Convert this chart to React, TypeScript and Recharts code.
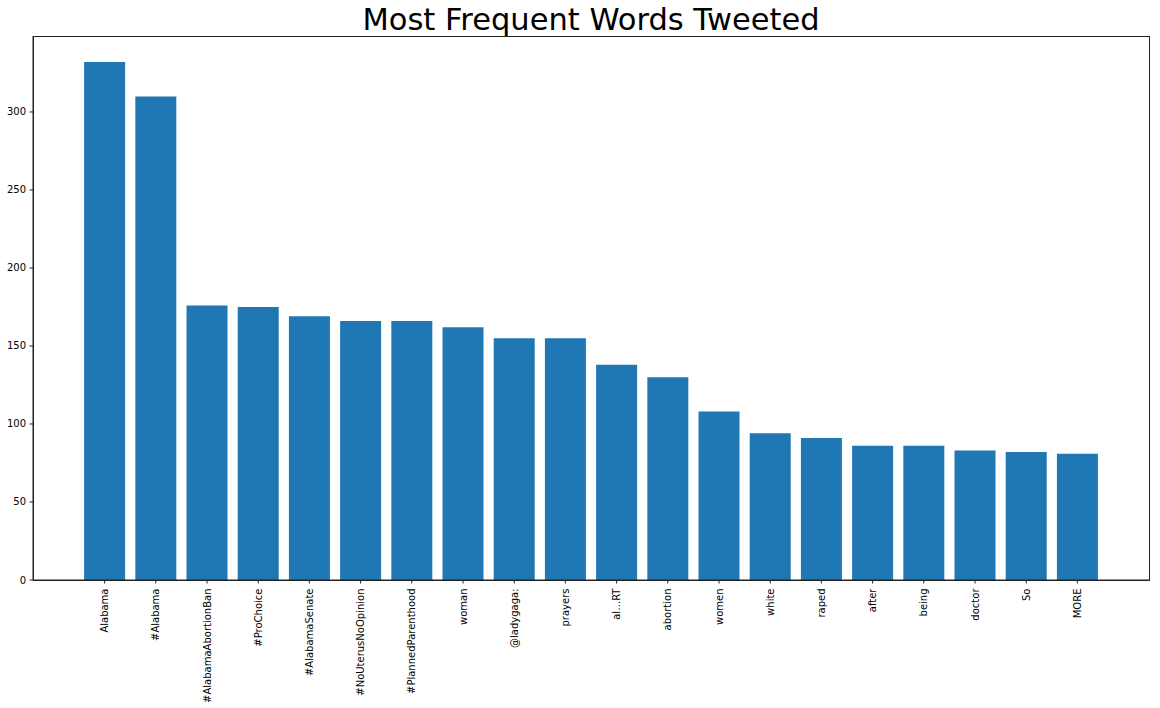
import { BarChart, Bar, XAxis, YAxis } from "recharts";

const words = [
  "Alabama",
  "#Alabama",
  "#AlabamaAbortionBan",
  "#ProChoice",
  "#AlabamaSenate",
  "#NoUterusNoOpinion",
  "#PlannedParenthood",
  "woman",
  "@ladygaga:",
  "prayers",
  "al…RT",
  "abortion",
  "women",
  "white",
  "raped",
  "after",
  "being",
  "doctor",
  "So",
  "MORE",
];

const counts = [332, 310, 176, 175, 169, 166, 166, 162, 155, 155, 138, 130, 108, 94, 91, 86, 86, 83, 82, 81];

const yTicks = [0, 50, 100, 150, 200, 250, 300];

const data = words.map((word, i) => ({ word, count: counts[i] }));

const FONT = "'DejaVu Sans', sans-serif";

const XTick = ({ x, y, payload }: any) => (
  <text
    x={x}
    y={y}
    transform={`rotate(-90, ${x}, ${y})`}
    textAnchor="end"
    dy="0.35em"
    fontSize={10}
    fontFamily={FONT}
    fill="#000"
  >
    {payload.value}
  </text>
);

const YTick = ({ x, y, payload }: any) => (
  <text x={x} y={y} textAnchor="end" dy="0.35em" fontSize={10} fontFamily={FONT} fill="#000">
    {payload.value}
  </text>
);

export default function App() {
  return (
    <div style={{ position: "absolute", left: 0, top: 0, width: 1160, height: 708, background: "#fff" }}>
      <div
        style={{
          position: "absolute",
          left: 33,
          width: 1116,
          top: 1,
          textAlign: "center",
          fontFamily: FONT,
          fontSize: 30.5,
          lineHeight: "38px",
          color: "#000",
        }}
      >
        Most Frequent Words Tweeted
      </div>
      <BarChart
        width={1160}
        height={708}
        data={data}
        margin={{ top: 36, right: 11, bottom: 0, left: 0 }}
        barCategoryGap="10%"
      >
        <XAxis
          dataKey="word"
          interval={0}
          height={128}
          padding={{ left: 46, right: 46 }}
          tick={<XTick />}
          tickSize={3.5}
          tickMargin={5}
          axisLine={{ stroke: "#222" }}
          tickLine={{ stroke: "#222" }}
        />
        <YAxis
          width={33}
          domain={[0, 348.7]}
          ticks={yTicks}
          allowDataOverflow
          tick={<YTick />}
          tickSize={3.5}
          tickMargin={3.5}
          axisLine={{ stroke: "#222" }}
          tickLine={{ stroke: "#222" }}
        />
        <Bar dataKey="count" fill="#1f77b4" isAnimationActive={false} />
      </BarChart>
      {/* plot frame */}
      <div
        style={{
          position: "absolute",
          left: 33,
          top: 36,
          width: 1117,
          height: 545,
          boxSizing: "border-box",
          border: "1px solid #222",
          pointerEvents: "none",
        }}
      />
    </div>
  );
}
